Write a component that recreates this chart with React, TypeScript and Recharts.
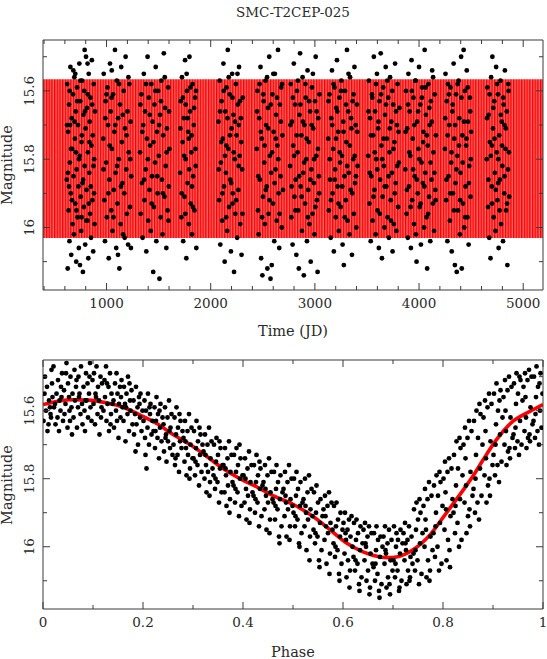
import React from 'react';
import { ComposedChart, Scatter, Line, Area, XAxis, YAxis } from 'recharts';

const TITLE = 'SMC-T2CEP-025';
const X_TITLE_TOP = 'Time (JD)';
const X_TITLE_BOTTOM = 'Phase';
const Y_TITLE = 'Magnitude';

// ---- observations: [time (JD), magnitude], one array per observing season ----
const season01: [number, number][] = [
  [618,15.86],[622,15.58],[627,16.12],[631,15.72],[636,15.95],[640,15.64],[644,16.04],[648,15.81],[653,15.53],[657,15.90],
  [661,16.08],[665,15.68],[670,15.77],[674,15.99],[678,15.61],[683,15.85],[687,16.02],[691,15.56],[696,15.74],[700,15.93],
  [704,15.66],[709,16.10],[713,15.83],[717,15.59],[722,15.97],[726,15.70],[730,15.88],[734,16.06],[739,15.52],[743,15.79],
  [747,15.63],[752,15.91],[756,16.01],[760,15.75],[765,15.57],[769,15.87],[773,16.13],[778,15.67],[782,15.94],[786,15.60],
  [790,15.82],[795,16.05],[799,15.71],[803,15.50],[808,15.89],[812,15.65],[816,15.98],[821,15.78],[825,16.09],[829,15.55],
  [834,15.84],[838,15.69],[842,15.96],[846,15.62],[851,16.03],[855,15.76],[859,15.51],[864,15.92],[868,15.73],[872,16.07],
  [877,15.58],[881,15.80],[885,15.99],[889,15.66],[640,15.88],[700,15.55],[760,15.97],[820,15.61],[880,15.90],[705,15.78],
  [745,16.11],[790,15.48],[650,15.70],[830,15.93],
  [620,15.70],[629,15.84],[646,15.60],[659,15.77],[668,15.92],[681,15.54],[693,15.69],[711,15.95],[719,15.63],[736,15.80],
  [749,15.57],[763,15.73],[775,15.86],[793,15.66],[806,15.98],[818,15.52],[836,15.75],[849,15.88],[862,15.64],[875,15.82],
];
const season02: [number, number][] = [
  [968,15.74],[973,15.55],[979,15.92],[985,16.04],[991,15.63],[997,15.81],[1003,15.97],[1009,15.59],[1015,15.70],[1021,16.09],
  [1027,15.86],[1033,15.52],[1039,15.66],[1045,15.95],[1051,15.77],[1057,16.01],[1063,15.61],[1069,15.89],[1075,15.72],[1081,15.48],
  [1087,15.84],[1093,16.06],[1099,15.57],[1105,15.93],[1111,15.68],[1117,15.80],[1123,16.12],[1129,15.64],[1135,15.99],[1141,15.53],
  [1147,15.75],[1153,15.87],[1159,16.02],[1165,15.60],[1171,15.90],[1177,15.71],[1183,15.50],[1189,15.83],[1195,15.96],[1201,15.66],
  [1207,16.05],[1213,15.78],[1219,15.58],[1225,15.94],[1231,15.69],[1237,15.85],[1110,16.08],[1050,15.54],
  [971,15.83],[988,15.68],[1000,15.61],[1018,15.90],[1030,15.76],[1048,15.62],[1066,15.97],[1084,15.70],[1102,15.82],[1120,15.58],
  [1138,15.88],[1156,15.67],[1174,16.03],[1192,15.73],[1210,15.56],[1228,15.80],[1234,16.06],
];
const season03: [number, number][] = [
  [1322,15.78],[1328,15.96],[1334,15.61],[1340,15.87],[1346,16.03],[1352,15.70],[1358,15.55],[1364,15.92],[1370,15.66],[1376,15.83],
  [1382,16.07],[1388,15.74],[1394,15.50],[1400,15.98],[1406,15.62],[1412,15.89],[1418,15.76],[1424,16.01],[1430,15.58],[1436,15.85],
  [1442,15.69],[1448,16.13],[1454,15.94],[1460,15.64],[1466,15.81],[1472,15.53],[1478,16.04],[1484,15.72],[1490,15.90],[1496,15.60],
  [1502,15.79],[1508,16.15],[1514,15.67],[1520,15.97],[1526,15.57],[1532,15.86],[1538,16.02],[1544,15.73],[1550,15.49],[1556,15.91],
  [1562,15.65],[1568,15.82],[1574,16.06],[1580,15.71],[1586,15.95],[1592,15.59],[1598,15.88],[1604,15.77],
  [1325,15.64],[1343,15.72],[1361,15.86],[1379,15.58],[1397,15.80],[1415,15.67],[1433,15.93],[1451,15.75],[1469,15.60],[1487,15.85],
  [1505,15.70],[1523,15.63],[1541,15.90],[1559,15.56],[1577,15.78],[1595,15.98],[1600,15.66],
];
const season04: [number, number][] = [
  [1706,15.84],[1712,15.63],[1718,15.97],[1724,15.56],[1730,15.75],[1736,16.04],[1742,15.68],[1748,15.91],[1754,15.51],[1760,15.80],
  [1766,16.09],[1772,15.60],[1778,15.87],[1784,15.72],[1790,15.99],[1796,15.50],[1802,15.66],[1808,15.93],[1814,15.78],[1820,16.02],
  [1826,15.58],[1832,15.85],[1838,15.70],[1844,15.95],[1850,15.62],[1856,15.82],[1862,16.06],[1760,15.64],[1790,15.74],[1820,15.88],
  [1709,15.71],[1721,15.90],[1733,15.62],[1745,15.79],[1757,15.96],[1769,15.55],[1781,15.68],[1793,15.83],[1805,15.59],[1817,15.73],
  [1829,15.94],[1841,15.65],[1853,15.77],[1859,15.60],
];
const season05: [number, number][] = [
  [2074,15.69],[2080,15.92],[2086,15.57],[2092,16.05],[2098,15.81],[2104,15.63],[2110,15.98],[2116,15.74],[2122,15.52],[2128,15.88],
  [2134,16.10],[2140,15.66],[2146,15.84],[2152,15.59],[2158,16.01],[2164,15.48],[2170,15.77],[2176,15.94],[2182,15.61],[2188,15.86],
  [2194,16.07],[2200,15.71],[2206,15.55],[2212,15.90],[2218,15.67],[2224,16.13],[2230,15.80],[2236,15.96],[2242,15.58],[2248,15.73],
  [2254,16.03],[2260,15.64],[2266,15.89],[2272,15.53],[2278,15.79],[2284,15.99],[2290,15.68],[2296,16.08],[2302,15.83],[2308,15.62],
  [2150,15.76],[2210,15.93],[2270,15.70],
  [2077,15.83],[2089,15.66],[2101,15.75],[2113,15.90],[2125,15.60],[2137,15.79],[2149,15.97],[2161,15.68],[2173,15.56],[2185,15.73],
  [2197,15.87],[2209,15.62],[2221,15.78],[2233,15.69],[2245,15.92],[2257,15.55],[2269,15.82],[2281,15.63],[2293,15.75],[2305,15.96],
];
const season06: [number, number][] = [
  [2442,15.77],[2448,15.60],[2454,15.95],[2460,16.02],[2466,15.68],[2472,15.86],[2478,15.53],[2484,16.09],[2490,15.74],[2496,16.14],
  [2502,15.91],[2508,15.63],[2514,15.81],[2520,15.99],[2526,15.57],[2532,15.70],[2538,15.88],[2544,16.12],[2550,15.65],[2556,15.96],
  [2562,15.50],[2568,15.79],[2574,16.15],[2580,15.84],[2586,16.11],[2592,15.61],[2598,15.93],[2604,15.72],[2610,16.04],[2616,15.55],
  [2622,15.83],[2628,15.67],[2634,15.98],[2640,15.76],[2646,15.48],[2652,15.90],[2658,16.06],[2664,15.64],[2670,15.85],[2676,15.59],
  [2682,16.00],[2688,15.73],[2694,15.89],
  [2445,15.66],[2457,15.85],[2469,15.58],[2481,15.72],[2493,15.97],[2505,15.61],[2517,15.76],[2529,15.89],[2541,15.56],[2553,15.71],
  [2565,15.92],[2577,15.64],[2589,15.78],[2601,15.55],[2613,15.87],[2625,15.74],[2637,15.62],[2649,15.80],[2661,15.96],[2673,15.69],[2685,15.58],
];
const season07: [number, number][] = [
  [2762,15.82],[2768,15.58],[2774,15.97],[2780,15.69],[2786,16.05],[2792,15.76],[2798,15.52],[2804,15.91],[2810,15.64],[2816,15.86],
  [2822,16.08],[2828,15.60],[2834,15.78],[2840,15.95],[2846,16.12],[2852,15.67],[2858,15.49],[2864,15.88],[2870,15.73],[2876,16.01],
  [2882,15.56],[2888,15.84],[2894,16.14],[2900,15.70],[2906,15.93],[2912,15.62],[2918,15.80],[2924,16.04],[2930,15.54],[2936,15.89],
  [2942,15.75],[2948,15.99],[2954,15.66],[2960,16.10],[2966,15.83],[2972,15.59],[2978,15.96],[2984,15.71],[2990,15.87],[2996,16.02],
  [3002,15.63],[3008,15.50],[3014,15.79],[3020,15.92],[3026,16.13],[3032,15.68],[3038,15.85],[3044,15.61],
  [2765,15.70],[2777,15.88],[2789,15.62],[2801,15.79],[2813,15.95],[2825,15.73],[2837,15.57],[2849,15.85],[2861,15.64],[2873,15.91],
  [2885,15.69],[2897,15.81],[2909,15.58],[2921,15.74],[2933,15.97],[2945,15.63],[2957,15.86],[2969,15.70],[2981,15.55],[2993,15.80],
  [3005,15.94],[3017,15.66],[3029,15.77],[3041,15.90],
];
const season08: [number, number][] = [
  [3128,15.74],[3134,15.95],[3140,15.61],[3146,15.86],[3152,16.03],[3158,15.68],[3164,15.54],[3170,15.90],[3176,15.77],[3182,16.07],
  [3188,15.59],[3194,15.83],[3200,15.97],[3206,15.65],[3212,15.51],[3218,15.88],[3224,15.72],[3230,16.01],[3236,15.62],[3242,15.81],
  [3248,15.94],[3254,15.57],[3260,15.79],[3266,16.05],[3272,15.69],[3278,16.11],[3284,15.85],[3290,15.60],[3296,15.92],[3302,15.75],
  [3308,15.48],[3314,15.98],[3320,15.66],[3326,15.84],[3332,16.02],[3338,15.56],[3344,15.89],[3350,15.71],[3356,16.08],[3362,15.63],
  [3368,15.80],[3374,15.96],[3380,15.53],[3386,15.87],[3392,15.70],[3398,16.00],[3404,15.64],[3410,15.82],
  [3131,15.63],[3143,15.80],[3155,15.92],[3167,15.70],[3179,15.58],[3191,15.86],[3203,15.74],[3215,15.66],[3227,15.93],[3239,15.78],
  [3251,15.60],[3263,15.88],[3275,15.72],[3287,15.97],[3299,15.64],[3311,15.82],[3323,15.55],[3335,15.76],[3347,15.68],[3359,15.90],
  [3371,15.61],[3383,15.79],[3395,15.85],[3407,15.72],
];
const season09: [number, number][] = [
  [3512,15.79],[3518,15.57],[3524,15.93],[3530,15.68],[3536,16.04],[3542,15.85],[3548,15.61],[3554,15.98],[3560,15.73],[3566,15.50],
  [3572,15.89],[3578,15.66],[3584,16.02],[3590,15.80],[3596,15.55],[3602,15.95],[3608,15.71],[3614,16.06],[3620,15.63],[3626,15.86],
  [3632,15.49],[3638,15.76],[3644,16.09],[3650,15.91],[3656,15.59],[3662,15.82],[3668,16.00],[3674,15.67],[3680,15.53],[3686,15.88],
  [3692,15.74],[3698,15.97],[3704,15.62],[3710,16.03],[3716,15.78],[3722,15.56],[3728,15.92],[3734,15.69],[3740,15.84],[3746,16.07],
  [3752,15.64],[3758,15.99],[3764,15.75],[3770,15.52],[3776,15.87],[3782,16.01],[3788,15.70],[3794,15.58],[3800,15.94],[3806,15.81],
  [3812,15.65],
  [3515,15.66],[3527,15.84],[3539,15.73],[3551,15.62],[3563,15.91],[3575,15.78],[3587,15.58],[3599,15.83],[3611,15.69],[3623,15.96],
  [3635,15.61],[3647,15.80],[3659,15.74],[3671,15.88],[3683,15.64],[3695,15.57],[3707,15.85],[3719,15.71],[3731,15.98],[3743,15.60],
  [3755,15.77],[3767,15.90],[3779,15.66],[3791,15.82],[3803,15.72],
];
const season10: [number, number][] = [
  [3868,15.83],[3874,15.60],[3880,15.96],[3886,15.71],[3892,16.03],[3898,15.55],[3904,15.88],[3910,15.66],[3916,15.79],[3922,16.06],
  [3928,15.51],[3934,15.92],[3940,15.74],[3946,15.62],[3952,15.99],[3958,15.85],[3964,15.57],[3970,16.02],[3976,16.10],[3982,15.69],
  [3988,15.90],[3994,15.77],[4000,15.53],[4006,15.94],[4012,15.64],[4018,16.05],[4024,15.81],[4030,15.59],[4036,15.87],[4042,15.72],
  [4048,16.00],[4054,15.48],[4060,15.84],[4066,15.67],[4072,15.97],[4078,16.12],[4084,15.76],[4090,15.58],[4096,15.91],[4102,15.70],
  [4108,16.04],[4114,15.63],[4120,15.86],[4126,15.54],[4132,15.93],[4138,15.78],[4144,16.01],[4150,15.61],[4156,15.89],[4162,15.73],
  [3871,15.72],[3883,15.89],[3895,15.64],[3907,15.78],[3919,15.94],[3931,15.60],[3943,15.83],[3955,15.70],[3967,15.57],[3979,15.86],
  [3991,15.66],[4003,15.80],[4015,15.93],[4027,15.62],[4039,15.75],[4051,15.88],[4063,15.59],[4075,15.73],[4087,15.96],[4099,15.65],
  [4111,15.81],[4123,15.69],[4135,15.56],[4147,15.84],[4159,15.92],
];
const season11: [number, number][] = [
  [4248,15.77],[4254,15.55],[4260,15.92],[4266,15.63],[4272,16.04],[4278,15.58],[4284,15.85],[4290,15.70],[4296,15.98],[4302,15.59],
  [4308,15.81],[4314,16.07],[4320,15.66],[4326,15.90],[4332,15.52],[4338,15.74],[4344,16.11],[4350,15.87],[4356,15.61],[4362,16.13],
  [4368,15.79],[4374,15.95],[4380,15.57],[4386,15.68],[4392,16.02],[4398,15.84],[4404,15.50],[4410,16.12],[4416,15.73],[4422,15.93],
  [4428,15.48],[4434,16.00],[4440,15.60],[4446,15.88],[4452,15.76],[4458,15.54],[4464,15.97],[4470,15.69],[4476,16.05],[4482,15.82],
  [4488,15.62],[4494,15.91],[4500,15.72],
  [4251,15.68],[4263,15.86],[4275,15.73],[4287,15.61],[4299,15.90],[4311,15.78],[4323,15.64],[4335,15.95],[4347,15.70],[4359,15.83],
  [4371,15.58],[4383,15.76],[4395,15.92],[4407,15.62],[4419,15.81],[4431,15.69],[4443,15.97],[4455,15.74],[4467,15.59],[4479,15.87],
  [4491,15.66],[4497,15.80],
];
const season12: [number, number][] = [
  [4650,15.80],[4656,15.59],[4662,15.94],[4668,15.67],[4674,16.03],[4680,15.75],[4686,16.09],[4692,15.56],[4698,15.88],[4704,15.50],
  [4710,15.71],[4716,15.97],[4722,15.63],[4728,15.84],[4734,16.01],[4740,15.53],[4746,15.78],[4752,15.92],[4758,15.61],[4764,16.06],
  [4770,15.73],[4776,15.86],[4782,15.57],[4788,15.99],[4794,15.69],[4800,15.82],[4806,16.04],[4812,15.64],[4818,15.90],[4824,15.54],
  [4830,15.77],[4836,15.95],[4842,15.66],[4848,16.11],[4854,15.83],[4860,15.60],[4866,15.91],[4700,15.76],[4760,15.87],[4820,15.70],
  [4653,15.68],[4665,15.86],[4677,15.61],[4689,15.79],[4701,15.93],[4713,15.65],[4725,15.74],[4737,15.89],[4749,15.58],[4761,15.80],
  [4773,15.95],[4785,15.67],[4797,15.76],[4809,15.62],[4821,15.85],[4833,15.71],[4845,15.93],[4857,15.58],[4863,15.78],
];

// ---- phase-folded observations: [phase, magnitude] ----
const phasedObs: [number, number][] = [
  [.003,15.55],[.001,15.63],[.006,15.60],[.004,15.50],[.009,15.66],[.012,15.57],[.008,15.53],[.015,15.61],[.011,15.64],[.017,15.48],[.014,15.59],[.019,15.56],[.016,15.62],[.018,15.52],
  [.022,15.59],[.021,15.47],[.025,15.64],[.027,15.55],[.024,15.58],[.030,15.51],[.029,15.62],[.033,15.57],[.032,15.66],[.036,15.53],[.035,15.60],[.038,15.49],[.037,15.56],[.040,15.63],
  [.042,15.54],[.043,15.61],[.045,15.58],[.047,15.46],[.049,15.65],[.050,15.52],[.052,15.56],[.054,15.63],[.055,15.50],[.057,15.59],[.058,15.67],[.059,15.55],[.046,15.49],[.053,15.60],
  [.061,15.62],[.063,15.48],[.064,15.57],[.066,15.53],[.068,15.65],[.070,15.59],[.071,15.50],[.073,15.55],[.075,15.61],[.076,15.47],[.078,15.58],[.079,15.64],[.067,15.51],[.072,15.56],
  [.081,15.53],[.083,15.60],[.084,15.66],[.086,15.49],[.087,15.57],[.089,15.52],[.090,15.62],[.092,15.55],[.094,15.46],[.095,15.59],[.097,15.63],[.099,15.51],[.085,15.57],[.093,15.50],
  [.101,15.58],[.102,15.49],[.104,15.64],[.105,15.55],[.107,15.47],[.109,15.61],[.110,15.53],[.112,15.57],[.113,15.67],[.115,15.50],[.117,15.59],[.118,15.52],[.106,15.56],[.116,15.62],
  [.121,15.60],[.123,15.51],[.124,15.56],[.126,15.47],[.127,15.63],[.129,15.58],[.131,15.53],[.132,15.66],[.134,15.49],[.136,15.61],[.137,15.55],[.139,15.58],[.128,15.52],[.135,15.64],
  [.141,15.57],[.142,15.65],[.144,15.52],[.146,15.60],[.147,15.49],[.149,15.55],[.151,15.68],[.152,15.58],[.154,15.53],[.155,15.62],[.157,15.51],[.159,15.59],[.148,15.63],[.156,15.56],
  [.161,15.63],[.162,15.53],[.164,15.58],[.165,15.69],[.167,15.55],[.169,15.61],[.170,15.50],[.172,15.66],[.174,15.57],[.175,15.60],[.177,15.54],[.179,15.64],[.166,15.59],[.173,15.52],
  [.181,15.57],[.182,15.67],[.184,15.61],[.186,15.53],[.187,15.64],[.189,15.59],[.190,15.70],[.192,15.56],[.194,15.62],[.195,15.55],[.197,15.66],[.199,15.60],[.185,15.72],[.193,15.58],
  [.201,15.63],[.203,15.57],[.204,15.68],[.206,15.60],[.207,15.77],[.209,15.65],[.210,15.55],[.212,15.70],[.214,15.61],[.215,15.58],[.217,15.67],[.219,15.63],[.205,15.73],[.213,15.59],
  [.221,15.66],[.223,15.59],[.224,15.71],[.226,15.63],[.227,15.56],[.229,15.68],[.230,15.61],[.232,15.74],[.234,15.65],[.235,15.58],[.237,15.69],[.239,15.62],[.225,15.66],[.233,15.60],
  [.241,15.64],[.242,15.72],[.244,15.59],[.246,15.67],[.247,15.75],[.249,15.62],[.250,15.69],[.252,15.57],[.254,15.71],[.255,15.65],[.257,15.61],[.259,15.73],[.245,15.68],[.253,15.66],
  [.261,15.70],[.263,15.62],[.264,15.76],[.266,15.67],[.267,15.59],[.269,15.73],[.270,15.65],[.272,15.78],[.274,15.69],[.275,15.63],[.277,15.71],[.279,15.66],[.265,15.74],[.273,15.61],
  [.281,15.68],[.283,15.75],[.284,15.63],[.286,15.71],[.287,15.79],[.289,15.66],[.290,15.73],[.292,15.61],[.294,15.77],[.295,15.70],[.297,15.65],[.299,15.74],[.285,15.69],[.293,15.80],
  [.301,15.74],[.302,15.66],[.304,15.79],[.306,15.71],[.307,15.63],[.309,15.76],[.310,15.69],[.312,15.82],[.314,15.73],[.315,15.67],[.317,15.78],[.319,15.70],[.305,15.75],[.313,15.65],
  [.321,15.72],[.323,15.80],[.324,15.67],[.326,15.76],[.327,15.84],[.329,15.70],[.330,15.78],[.332,15.65],[.334,15.81],[.335,15.74],[.337,15.69],[.339,15.77],[.325,15.73],[.333,15.85],
  [.341,15.79],[.342,15.70],[.344,15.83],[.346,15.75],[.347,15.68],[.349,15.81],[.350,15.73],[.352,15.87],[.354,15.77],[.355,15.71],[.357,15.84],[.359,15.76],[.345,15.80],[.353,15.69],
  [.361,15.76],[.363,15.84],[.364,15.71],[.366,15.79],[.367,15.88],[.369,15.74],[.370,15.82],[.372,15.69],[.374,15.86],[.375,15.78],[.377,15.73],[.379,15.81],[.365,15.77],[.373,15.90],
  [.381,15.82],[.382,15.73],[.384,15.87],[.386,15.78],[.387,15.71],[.389,15.84],[.390,15.76],[.392,15.91],[.394,15.80],[.395,15.74],[.397,15.88],[.399,15.79],[.385,15.83],[.393,15.70],
  [.401,15.79],[.403,15.87],[.404,15.74],[.406,15.83],[.407,15.92],[.409,15.77],[.410,15.85],[.412,15.72],[.414,15.89],[.415,15.81],[.417,15.76],[.419,15.84],[.405,15.80],[.413,15.93],
  [.421,15.85],[.422,15.76],[.424,15.90],[.426,15.81],[.427,15.73],[.429,15.87],[.430,15.79],[.432,15.94],[.434,15.83],[.435,15.77],[.437,15.91],[.439,15.82],[.425,15.86],[.433,15.75],
  [.441,15.81],[.443,15.89],[.444,15.76],[.446,15.85],[.447,15.95],[.449,15.79],[.450,15.87],[.452,15.74],[.454,15.92],[.455,15.84],[.457,15.78],[.459,15.86],[.445,15.83],[.453,15.96],
  [.461,15.87],[.462,15.78],[.464,15.92],[.466,15.83],[.467,15.76],[.469,15.89],[.470,15.81],[.472,15.97],[.474,15.86],[.475,15.79],[.477,15.94],[.479,15.84],[.465,15.88],[.473,15.99],
  [.481,15.83],[.483,15.91],[.484,15.78],[.486,15.87],[.487,15.97],[.489,15.81],[.490,15.89],[.492,15.76],[.494,15.94],[.495,15.86],[.497,15.80],[.499,15.88],[.485,15.85],[.493,15.98],
  [.501,15.90],[.502,15.80],[.504,15.94],[.506,15.85],[.507,15.78],[.509,15.92],[.510,15.83],[.512,15.99],[.514,15.88],[.515,15.81],[.517,15.96],[.519,15.87],[.505,15.91],[.513,16.00],
  [.521,15.86],[.523,15.94],[.524,15.80],[.526,15.90],[.527,16.01],[.529,15.84],[.530,15.92],[.532,15.79],[.534,15.97],[.535,15.89],[.537,15.83],[.539,15.91],[.525,15.88],[.533,16.04],
  [.541,15.95],[.542,15.84],[.544,15.99],[.546,15.90],[.547,15.82],[.549,15.97],[.550,15.87],[.552,16.04],[.554,15.93],[.555,15.86],[.557,16.01],[.559,15.91],[.545,15.96],[.553,16.06],
  [.561,15.89],[.563,15.98],[.564,15.85],[.566,15.94],[.567,16.05],[.569,15.88],[.570,15.96],[.572,15.84],[.574,16.02],[.575,15.93],[.577,15.87],[.579,15.95],[.565,15.91],[.573,16.08],
  [.581,15.99],[.582,15.88],[.584,16.03],[.586,15.94],[.587,15.87],[.589,16.01],[.590,15.92],[.592,16.08],[.594,15.97],[.595,15.90],[.597,16.05],[.599,15.95],[.585,16.00],[.593,16.10],
  [.601,15.93],[.603,16.02],[.604,15.90],[.606,15.98],[.607,16.09],[.609,15.95],[.610,16.04],[.612,15.92],[.614,16.07],[.615,15.97],[.617,15.91],[.619,16.00],[.605,15.96],[.613,16.12],
  [.621,16.03],[.622,15.93],[.624,16.07],[.626,15.98],[.627,15.92],[.629,16.05],[.630,15.96],[.632,16.11],[.634,16.01],[.635,15.94],[.637,16.09],[.639,15.99],[.625,16.04],[.633,16.13],
  [.641,15.95],[.643,16.04],[.644,15.93],[.646,16.00],[.647,16.10],[.649,15.97],[.650,16.07],[.652,15.94],[.654,16.12],[.655,16.02],[.657,15.96],[.659,16.05],[.645,15.99],[.653,16.14],
  [.661,16.06],[.662,15.96],[.664,16.10],[.666,16.01],[.667,15.94],[.669,16.08],[.670,15.98],[.672,16.13],[.674,16.03],[.675,15.97],[.677,16.11],[.679,16.00],[.665,16.05],[.673,16.15],
  [.681,15.97],[.683,16.05],[.684,15.94],[.686,16.02],[.687,16.12],[.689,15.99],[.690,16.09],[.692,15.95],[.694,16.14],[.695,16.04],[.697,15.98],[.699,16.07],[.685,16.01],[.693,16.11],
  [.701,16.04],[.702,15.94],[.704,16.09],[.706,16.00],[.707,15.96],[.709,16.07],[.710,15.98],[.712,16.13],[.714,16.02],[.715,15.95],[.717,16.10],[.719,15.99],[.705,16.05],[.713,16.12],
  [.721,15.96],[.723,16.04],[.724,15.93],[.726,16.01],[.727,16.11],[.729,15.98],[.730,16.07],[.732,15.94],[.734,16.09],[.735,16.03],[.737,15.97],[.739,16.05],[.725,15.99],[.733,16.10],
  [.741,16.02],[.742,15.89],[.744,16.07],[.746,15.95],[.747,15.87],[.749,16.04],[.750,15.92],[.752,16.11],[.754,15.99],[.755,15.90],[.757,16.08],[.759,15.96],[.745,16.01],[.753,15.86],
  [.761,15.88],[.763,16.00],[.764,15.83],[.766,15.95],[.767,16.09],[.769,15.86],[.770,16.04],[.772,15.81],[.774,16.07],[.775,15.97],[.777,15.85],[.779,16.01],[.765,15.92],[.773,16.10],
  [.781,15.96],[.782,15.82],[.784,16.03],[.786,15.90],[.787,15.79],[.789,16.00],[.790,15.85],[.792,16.07],[.794,15.93],[.795,15.81],[.797,16.05],[.799,15.88],[.785,15.94],[.793,15.78],
  [.801,15.80],[.803,15.95],[.804,15.75],[.806,15.89],[.807,16.04],[.809,15.78],[.810,15.98],[.812,15.74],[.814,16.06],[.815,15.91],[.817,15.77],[.819,15.86],[.805,15.84],[.813,16.01],
  [.821,15.90],[.822,15.73],[.824,15.96],[.826,15.82],[.827,15.69],[.829,15.93],[.830,15.77],[.832,16.00],[.834,15.86],[.835,15.71],[.837,15.98],[.839,15.79],[.825,15.88],[.833,15.68],
  [.841,15.70],[.843,15.87],[.844,15.65],[.846,15.82],[.847,15.96],[.849,15.68],[.850,15.91],[.852,15.63],[.854,15.94],[.855,15.78],[.857,15.66],[.859,15.85],[.845,15.74],[.853,15.89],
  [.861,15.83],[.862,15.63],[.864,15.90],[.866,15.73],[.867,15.60],[.869,15.87],[.870,15.68],[.872,15.92],[.874,15.77],[.875,15.61],[.877,15.85],[.879,15.70],[.865,15.80],[.873,15.58],
  [.881,15.62],[.883,15.79],[.884,15.57],[.886,15.74],[.887,15.87],[.889,15.59],[.890,15.82],[.892,15.55],[.894,15.85],[.895,15.69],[.897,15.58],[.899,15.76],[.885,15.66],[.893,15.80],
  [.901,15.73],[.902,15.55],[.904,15.79],[.906,15.64],[.907,15.52],[.909,15.76],[.910,15.60],[.912,15.81],[.914,15.67],[.915,15.54],[.917,15.75],[.919,15.62],[.905,15.70],[.913,15.57],
  [.921,15.56],[.923,15.70],[.924,15.51],[.926,15.66],[.927,15.76],[.929,15.54],[.930,15.72],[.932,15.50],[.934,15.74],[.935,15.62],[.937,15.53],[.939,15.68],[.925,15.60],[.933,15.71],
  [.941,15.67],[.942,15.52],[.944,15.71],[.946,15.58],[.947,15.49],[.949,15.69],[.950,15.55],[.952,15.73],[.954,15.63],[.955,15.51],[.957,15.70],[.959,15.57],[.945,15.65],[.953,15.50],
  [.961,15.53],[.963,15.66],[.964,15.49],[.966,15.62],[.967,15.71],[.969,15.51],[.970,15.68],[.972,15.48],[.974,15.69],[.975,15.59],[.977,15.50],[.979,15.64],[.965,15.56],[.973,15.67],
  [.981,15.63],[.982,15.50],[.984,15.68],[.986,15.56],[.987,15.47],[.989,15.66],[.990,15.53],[.992,15.70],[.994,15.60],[.995,15.49],[.997,15.65],[.999,15.55],[.985,15.61],[.993,15.52],
];

// ---- fitted light-curve model: [phase, magnitude] ----
const modelCurve: [number, number][] = [
  [0,15.582],[0.03,15.572],[0.06,15.568],[0.09,15.569],[0.127,15.577],[0.16,15.59],[0.2,15.617],[0.23,15.64],
  [0.26,15.67],[0.3,15.705],[0.327,15.734],[0.36,15.77],[0.394,15.80],[0.43,15.826],[0.46,15.85],[0.5,15.875],
  [0.54,15.911],[0.57,15.945],[0.607,15.989],[0.64,16.015],[0.674,16.03],[0.69,16.032],[0.707,16.03],[0.74,16.009],
  [0.774,15.965],[0.807,15.90],[0.841,15.832],[0.861,15.79],[0.88,15.745],[0.907,15.685],[0.94,15.631],[0.974,15.602],[1,15.582],
];
// model brightest / faintest magnitude (envelope of the model in the time panel)
const modelRange: [number, number] = [15.566, 16.031];

// ---- axes ----
const timeDomain: [number, number] = [390, 5190];
const phaseDomain: [number, number] = [0, 1];
const magDomain: [number, number] = [15.451, 16.183];
const timeTicks = [400,600,800,1000,1200,1400,1600,1800,2000,2200,2400,2600,2800,3000,3200,3400,3600,3800,4000,4200,4400,4600,4800,5000];
const timeMajor = [1000,2000,3000,4000,5000];
const phaseTicks = [0,0.1,0.2,0.3,0.4,0.5,0.6,0.7,0.8,0.9,1];
const phaseMajor = [0,0.2,0.4,0.6,0.8,1];
const magTicks = [15.5,15.6,15.7,15.8,15.9,16,16.1];
const magMajor = [15.6,15.8,16];

const timeData = [
  ...season01, ...season02, ...season03, ...season04, ...season05, ...season06,
  ...season07, ...season08, ...season09, ...season10, ...season11, ...season12,
].map(([x, y]) => ({ x, y }));
const phaseData = phasedObs.map(([x, y]) => ({ x, y }));
const curveData = modelCurve.map(([x, y]) => ({ x, y }));
const bandData = [
  { x: timeDomain[0], band: modelRange },
  { x: timeDomain[1], band: modelRange },
];

const FONT = '"DejaVu Serif", "Liberation Serif", serif';
const AX = '#3a3a3a';
const TXT = '#2a2a2a';

const makeTick = (side: string, major: number[], labels: boolean) => (props: any) => {
  const { x, y, payload } = props;
  const v = payload.value;
  const isMaj = major.some((m) => Math.abs(m - v) < 1e-9);
  const len = isMaj ? 7 : 4;
  const lbl = labels && isMaj ? String(v) : null;
  if (side === 'bottom') {
    return (
      <g>
        <line x1={x} y1={y} x2={x} y2={y - len} stroke={AX} strokeWidth={1} />
        {lbl && (
          <text x={x} y={y + 18} textAnchor="middle" fontFamily={FONT} fontSize={13.5} fill={TXT}>
            {lbl}
          </text>
        )}
      </g>
    );
  }
  if (side === 'top') {
    return <line x1={x} y1={y} x2={x} y2={y + len} stroke={AX} strokeWidth={1} />;
  }
  if (side === 'left') {
    return (
      <g>
        <line x1={x} y1={y} x2={x + len} y2={y} stroke={AX} strokeWidth={1} />
        {lbl && (
          <text x={34} y={y} transform={`rotate(-90 34 ${y})`} textAnchor="middle" fontFamily={FONT} fontSize={13.5} fill={TXT}>
            {lbl}
          </text>
        )}
      </g>
    );
  }
  return <line x1={x} y1={y} x2={x - len} y2={y} stroke={AX} strokeWidth={1} />;
};

const Dot = (p: any) => <circle cx={p.cx} cy={p.cy} r={2.4} fill="#000" />;
const NoDot = () => <g />;

const axisCommon = {
  type: 'number' as const,
  allowDataOverflow: true,
  interval: 0 as const,
  tickSize: 0,
  tickMargin: 0,
  tickLine: false,
  axisLine: { stroke: AX, strokeWidth: 1 },
};

export default function App() {
  return (
    <div style={{ position: 'absolute', left: 0, top: 0, width: 547, height: 659, background: '#fff' }}>
      <div style={{ position: 'absolute', left: 0, top: 0 }}>
        <ComposedChart width={547} height={340} data={bandData} margin={{ top: 39, right: 3, bottom: 0, left: 0 }}>
          <defs>
            <pattern id="modelStripes" x="0" y="0" width="2.7" height="10" patternUnits="userSpaceOnUse">
              <rect x="0" y="0" width="2.7" height="10" fill="#ff6262" />
              <rect x="0" y="0" width="1.3" height="10" fill="#f80000" />
            </pattern>
          </defs>
          <XAxis xAxisId="b" dataKey="x" {...axisCommon} domain={timeDomain} ticks={timeTicks} height={50}
            tick={makeTick('bottom', timeMajor, true)} />
          <XAxis xAxisId="t" dataKey="x" orientation="top" {...axisCommon} domain={timeDomain} ticks={timeTicks} height={1}
            tick={makeTick('top', timeMajor, false)} />
          <YAxis yAxisId="l" dataKey="y" {...axisCommon} reversed domain={magDomain} ticks={magTicks} width={43}
            tick={makeTick('left', magMajor, true)} />
          <YAxis yAxisId="r" dataKey="y" orientation="right" {...axisCommon} reversed domain={magDomain} ticks={magTicks} width={1}
            tick={makeTick('right', magMajor, false)} />
          <Area xAxisId="b" yAxisId="l" dataKey="band" type="linear" stroke="none" fill="url(#modelStripes)" fillOpacity={1}
            dot={false} activeDot={false} isAnimationActive={false} />
          <Scatter xAxisId="t" yAxisId="r" data={timeData} dataKey="y" shape={NoDot} isAnimationActive={false} />
          <Scatter xAxisId="b" yAxisId="l" data={timeData} dataKey="y" shape={Dot} isAnimationActive={false} />
        </ComposedChart>
      </div>
      <div style={{ position: 'absolute', left: 0, top: 320 }}>
        <ComposedChart width={547} height={339} margin={{ top: 39, right: 3, bottom: 0, left: 0 }}>
          <XAxis xAxisId="b" dataKey="x" {...axisCommon} domain={phaseDomain} ticks={phaseTicks} height={50}
            tick={makeTick('bottom', phaseMajor, true)} />
          <XAxis xAxisId="t" dataKey="x" orientation="top" {...axisCommon} domain={phaseDomain} ticks={phaseTicks} height={1}
            tick={makeTick('top', phaseMajor, false)} />
          <YAxis yAxisId="l" dataKey="y" {...axisCommon} reversed domain={magDomain} ticks={magTicks} width={43}
            tick={makeTick('left', magMajor, true)} />
          <YAxis yAxisId="r" dataKey="y" orientation="right" {...axisCommon} reversed domain={magDomain} ticks={magTicks} width={1}
            tick={makeTick('right', magMajor, false)} />
          <Scatter xAxisId="t" yAxisId="r" data={phaseData} dataKey="y" shape={NoDot} isAnimationActive={false} />
          <Scatter xAxisId="b" yAxisId="l" data={phaseData} dataKey="y" shape={Dot} isAnimationActive={false} />
          <Line xAxisId="b" yAxisId="l" data={curveData} dataKey="y" type="monotone" stroke="#ff0000" strokeWidth={3.6}
            dot={false} activeDot={false} isAnimationActive={false} />
        </ComposedChart>
      </div>
      <svg width={547} height={659} style={{ position: 'absolute', left: 0, top: 0, pointerEvents: 'none' }}>
        <text x={293} y={17} textAnchor="middle" fontFamily={FONT} fontSize={13.5} fill={TXT}>{TITLE}</text>
        <text x={293} y={336} textAnchor="middle" fontFamily={FONT} fontSize={14.5} fill={TXT}>{X_TITLE_TOP}</text>
        <text x={293} y={657} textAnchor="middle" fontFamily={FONT} fontSize={14.5} fill={TXT}>{X_TITLE_BOTTOM}</text>
        <text x={12} y={165} transform="rotate(-90 12 165)" textAnchor="middle" fontFamily={FONT} fontSize={14.5} fill={TXT}>{Y_TITLE}</text>
        <text x={12} y={485} transform="rotate(-90 12 485)" textAnchor="middle" fontFamily={FONT} fontSize={14.5} fill={TXT}>{Y_TITLE}</text>
      </svg>
    </div>
  );
}
